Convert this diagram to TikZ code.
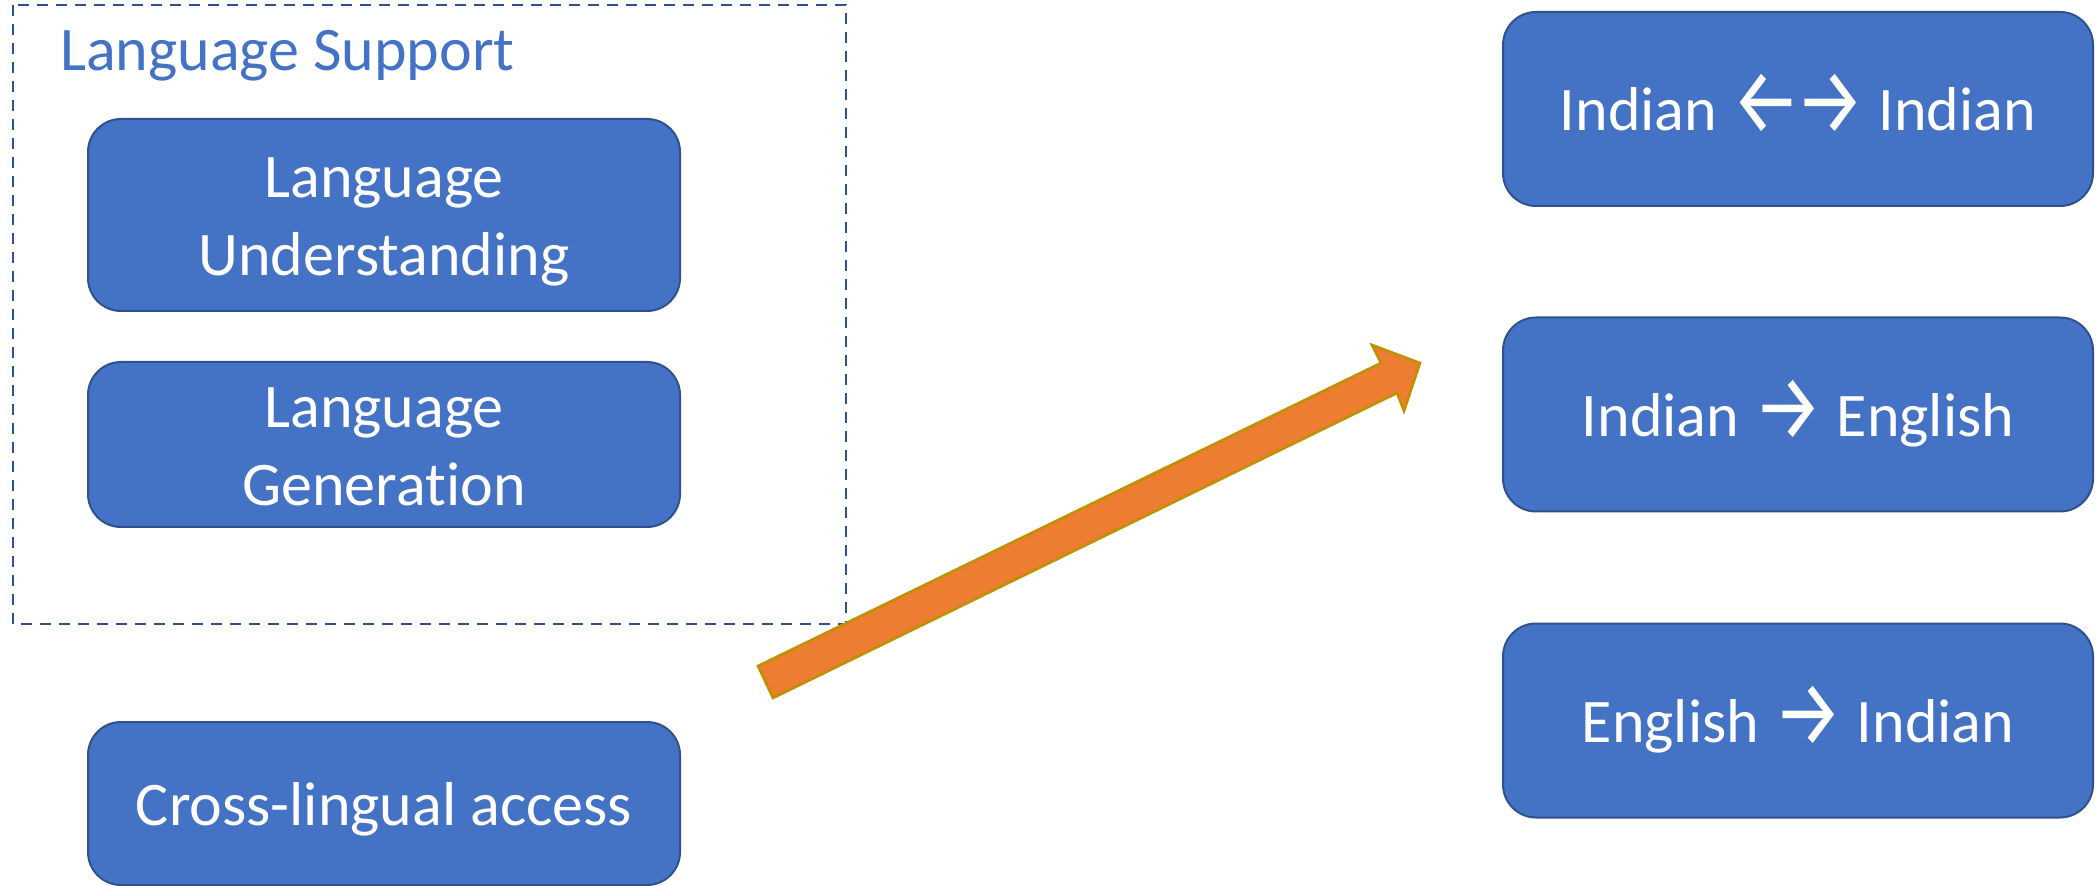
\documentclass[tikz,border=0pt]{standalone}
\usepackage{fontspec}
\setmainfont{Carlito}[RawFeature=-liga]
\newfontfamily\arrowfont{Fira Sans}
\usetikzlibrary{positioning}

\definecolor{boxblue}{HTML}{4472C4}
\definecolor{boxedge}{HTML}{2F528F}
\definecolor{arroworange}{HTML}{ED7D31}
\definecolor{arrowedge}{HTML}{BF9000}

\newcommand{\ra}{\raisebox{-1.5pt}{\scalebox{1.25}[1.5]{\arrowfont →}}}
\newcommand{\la}{\raisebox{-1.5pt}{\scalebox{1.25}[1.5]{\arrowfont ←}}}

\begin{document}
\begin{tikzpicture}[x=0.5pt,y=-0.5pt,line width=1pt,
  box/.style={draw=boxedge,fill=boxblue,rounded corners=16.5pt,text=white,
    align=center,inner sep=0pt,font=\fontsize{31}{39}\selectfont,
    text height=22pt,text depth=0pt},
  leftbox/.style={box,minimum width=296pt},
  twoline/.style={text height=61pt},
  rightbox/.style={box,minimum width=295pt,minimum height=97pt}]
  \useasboundingbox (0,0) rectangle (2096,886);

  % 虚线框：语言支持
  \draw[boxedge,line width=1.1pt,dash pattern=on 5.5pt off 4pt] (13,5) rectangle (846,624);
  \node[anchor=base west,inner sep=0pt,text=boxblue,font=\fontsize{31}{39}\selectfont]
    (support) at (59,71) {Language Support};

  % 左侧三个框
  \node[leftbox,twoline,minimum height=96pt] (under) at (384,215) {Language\\Understanding};
  \node[leftbox,twoline,minimum height=82.5pt] (gen) at (384,444.5) {Language\\Generation};
  \node[leftbox,minimum height=81.5pt] (cross) at (384,803.5) {Cross-lingual access};

  % 右侧三个框
  \node[rightbox] (ii) at (1798,109) {Indian \la\kern-3pt\ra{} Indian};
  \node[rightbox] (ie) at (1798,414.5) {Indian \ra{} English};
  \node[rightbox] (ei) at (1798,720.5) {English \ra{} Indian};

  % 橙色箭头
  \coordinate (tailA) at (758,666);
  \coordinate (tailB) at (773,698);
  \coordinate (neckA) at (1381,363);
  \coordinate (neckB) at (1397,393);
  \coordinate (barbA) at (1372,345);
  \coordinate (barbB) at (1404,411);
  \coordinate (tip) at (1420,363);
  \draw[draw=arrowedge,fill=arroworange,line width=1.3pt,line join=miter]
    (tailA) -- (neckA) -- (barbA) -- (tip) -- (barbB) -- (neckB) -- (tailB) -- cycle;
\end{tikzpicture}
\end{document}
